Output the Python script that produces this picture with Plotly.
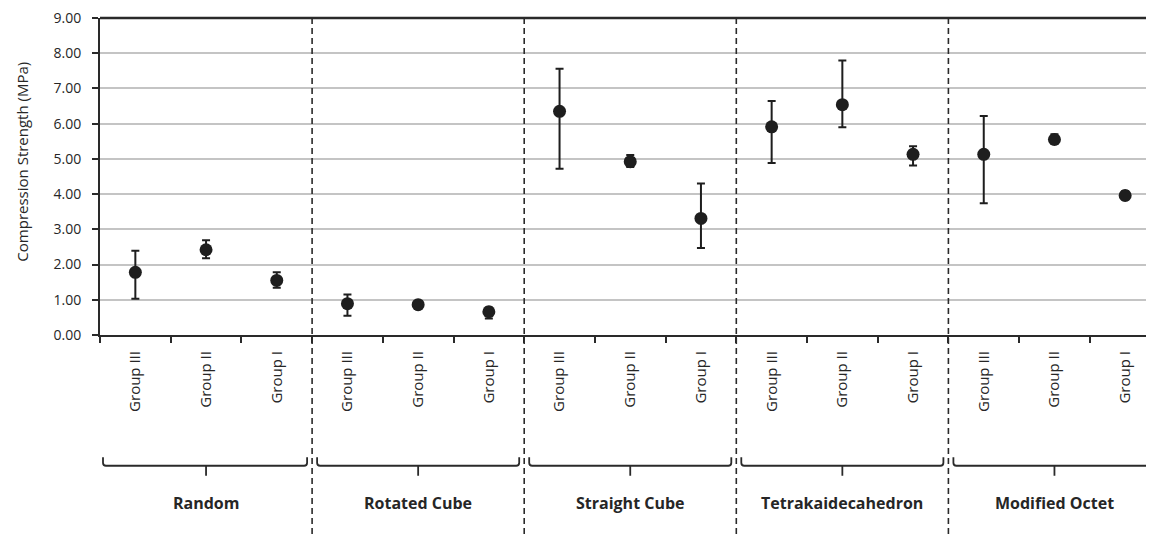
import plotly.graph_objects as go

# ---------------- data ----------------
structures = ["Random", "Rotated Cube", "Straight Cube", "Tetrakaidecahedron", "Modified Octet"]
groups = ["Group III", "Group II", "Group I"]
mean_strength = [1.78, 2.42, 1.55, 0.89, 0.86, 0.66, 6.35, 4.92, 3.31, 5.91, 6.54, 5.13, 5.13, 5.55, 3.96]
upper_strength = [2.39, 2.69, 1.78, 1.15, 0.93, 0.78, 7.56, 5.11, 4.30, 6.64, 7.79, 5.36, 6.22, 5.70, 4.08]
lower_strength = [1.03, 2.18, 1.34, 0.55, 0.80, 0.47, 4.72, 4.77, 2.47, 4.88, 5.90, 4.81, 3.74, 5.42, 3.85]
y_ticks = [0, 1, 2, 3, 4, 5, 6, 7, 8, 9]

# ---------------- layout constants ----------------
OFF = 8  # page body margin of the html page
WIN_W, WIN_H = 1154, 537
W, H = WIN_W - OFF, WIN_H - OFF
# target plot box in window pixels: x 100..1154, y 15..335
ML = 100 - OFF
MT = 15 - OFF
MR = 0
MB = H - (335 - OFF)
PW, PH = W - ML - MR, H - MT - MB
n = len(mean_strength)
cat_px = 70.7
XR = [-0.5, -0.5 + PW / cat_px]

labels = [g for _ in structures for g in groups]
xs = list(range(n))
err_plus = [u - m for u, m in zip(upper_strength, mean_strength)]
err_minus = [m - l for m, l in zip(mean_strength, lower_strength)]

INK = "#1e1e1e"
TXT = "#262626"
FONT = "Open Sans"

fig = go.Figure()
fig.add_trace(go.Scatter(
    x=xs, y=mean_strength, mode="markers",
    marker=dict(size=13, color=INK, symbol="circle"),
    error_y=dict(type="data", symmetric=False, array=err_plus, arrayminus=err_minus,
                 color=INK, thickness=2, width=4),
    showlegend=False, hoverinfo="skip", cliponaxis=False,
))


def xpaper(v):
    return (v - XR[0]) / (XR[1] - XR[0])


def pxx(v):
    # window pixel x of data value v
    return OFF + ML + xpaper(v) * PW


def P(wx, wy):
    # window pixel -> paper coords
    return f"{(wx - OFF - ML) / PW:.5f},{(MT + PH - (wy - OFF)) / PH:.5f}"


def ypaper(wy):
    return (MT + PH - (wy - OFF)) / PH


shapes = []
# top border line
shapes.append(dict(type="line", xref="paper", yref="paper", x0=0, x1=1, y0=1, y1=1,
                   line=dict(color="#2a2a2a", width=2.5)))
# dashed separators
ng = len(groups)
for k in range(1, len(structures)):
    xb = xpaper(k * ng - 0.5)
    shapes.append(dict(type="line", xref="paper", yref="paper", x0=xb, x1=xb,
                       y0=1, y1=ypaper(WIN_H + 5),
                       line=dict(color="#2a2a2a", width=1.6, dash="6px,4px")))

# brackets
yt, yh, yd = 458.5, 467, 477
for k, s in enumerate(structures):
    left_px = pxx(k * ng - 0.5) + (3 if k == 0 else 5)
    right_px = min(pxx(k * ng + ng - 0.5) - 5, WIN_W + 10)
    cx = pxx(k * ng + (ng - 1) / 2)
    r = 3.0
    path = (f"M {P(left_px, yt)} L {P(left_px, yh - r)} Q {P(left_px, yh)} {P(left_px + r, yh)} "
            f"L {P(right_px - r, yh)} Q {P(right_px, yh)} {P(right_px, yh - r)} L {P(right_px, yt)} "
            f"M {P(cx, yh)} L {P(cx, yd)}")
    shapes.append(dict(type="path", xref="paper", yref="paper", path=path,
                       line=dict(color="#2a2a2a", width=1.8)))

annotations = []
for k, s in enumerate(structures):
    annotations.append(dict(x=k * ng + (ng - 1) / 2, xref="x", y=ypaper(505), yref="paper",
                            text=f"<b>{s}</b>", showarrow=False,
                            font=dict(family=FONT, size=16, color=TXT),
                            xanchor="center", yanchor="middle"))
annotations.append(dict(x=(22 - OFF - ML) / PW, xref="paper", y=ypaper(160), yref="paper",
                        text="Compression Strength (MPa)", textangle=-90, showarrow=False,
                        font=dict(family=FONT, size=15, color=TXT),
                        xanchor="center", yanchor="middle"))

fig.update_layout(
    width=W, height=H,
    margin=dict(l=ML, r=MR, t=MT, b=MB, pad=0),
    paper_bgcolor="white", plot_bgcolor="white",
    showlegend=False,
    shapes=shapes, annotations=annotations,
    xaxis=dict(
        range=XR, tickmode="array", tickvals=xs, ticktext=labels, tickangle=-90,
        ticks="", ticklabelstandoff=8, ticklabeloverflow="allow",
        tickfont=dict(family=FONT, size=15, color=TXT),
        showgrid=False, zeroline=False,
        showline=True, linecolor="#2a2a2a", linewidth=2,
        minor=dict(ticks="outside", tickmode="array",
                   tickvals=[i - 0.5 for i in range(n + 1)],
                   ticklen=6, tickwidth=1.5, tickcolor="#2a2a2a", showgrid=False),
        fixedrange=True,
    ),
    yaxis=dict(
        range=[0, 9], tickmode="array", tickvals=y_ticks,
        ticktext=[f"{v:.2f}" for v in y_ticks],
        ticks="outside", ticklen=6, tickwidth=1.5, tickcolor="#2a2a2a",
        ticklabelstandoff=8, ticklabeloverflow="allow",
        tickfont=dict(family=FONT, size=14, color=TXT),
        showgrid=True, gridcolor="#c4c4c4", gridwidth=1.6,
        zeroline=False, showline=True, linecolor="#2a2a2a", linewidth=2,
        fixedrange=True,
    ),
)

fig.write_html("out.html")
